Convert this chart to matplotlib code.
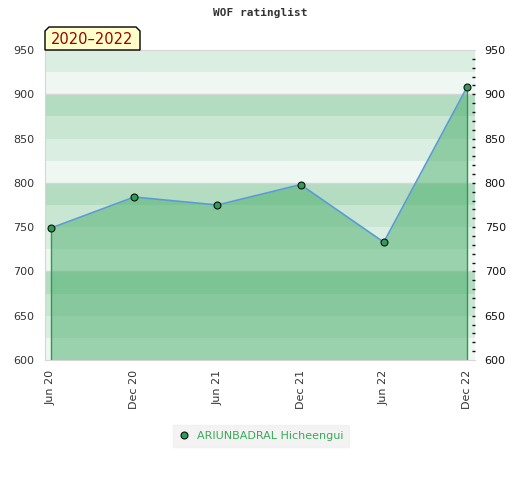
import numpy as np
import matplotlib
matplotlib.use("Agg")
import matplotlib.pyplot as plt
from matplotlib.patches import Polygon
from matplotlib.ticker import FixedLocator

# 数据
periods = ["Jun 20", "Dec 20", "Jun 21", "Dec 21", "Jun 22", "Dec 22"]
ratings = [749, 784, 775, 798, 733, 908]
player = "ARIUNBADRAL Hicheengui"
years = "2020–2022"
y_min, y_max = 600, 950

W, H = 520, 480
fig = plt.figure(figsize=(W / 100, H / 100), dpi=100)
ax = fig.add_axes([45 / W, 1 - 360 / H, 430 / W, 310 / H])

# 背景色带
band_colors = ["#eef7f1", "#daeee1", "#c8e6d2", "#b3dcc1"]
for i, y0 in enumerate(range(y_min, y_max, 25)):
    ax.axhspan(y0, y0 + 25, color=band_colors[i % 4], lw=0, zorder=0)
for y in (700, 800, 900):
    ax.axhline(y, color="#d6d6d6", lw=1, zorder=1)

x = np.arange(len(periods))
ax.fill_between(x, ratings, y_min, color="#48ae6a", alpha=0.5, lw=0, zorder=2)
ax.vlines([x[0], x[-1]], y_min, [ratings[0], ratings[-1]], color="#2e9a50", lw=1, zorder=3)
ax.plot(x, ratings, color="#5b9bd5", lw=1.2, zorder=4)
ax.plot(x, ratings, "o", ms=5, mfc="#2e9e55", mec="#111111", mew=0.8, zorder=5)

ax.set_xlim(-6 / 83.2, 5 + 8 / 83.2)
ax.set_ylim(y_min, y_max)
ax.set_xticks(x)
ax.set_xticklabels(periods, rotation=90, fontsize=8, color="#333333")
ax.tick_params(axis="x", length=0, pad=7)
ax.set_yticks(range(y_min, y_max + 1, 50))
ax.tick_params(axis="y", length=0, labelsize=8, labelcolor="#333333", pad=8)
for s in ("left", "bottom", "top"):
    ax.spines[s].set_color("#d6d6d6")
ax.spines["right"].set_visible(False)

# 右侧刻度：每10一个短刻度，不含两端
ax2 = ax.twinx()
ax2.set_ylim(y_min, y_max)
ax2.set_yticks(range(y_min, y_max + 1, 50))
ax2.yaxis.set_minor_locator(FixedLocator(range(y_min + 10, y_max, 10)))
ax2.yaxis.remove_overlapping_locs = False
ax2.tick_params(axis="y", which="major", length=0, labelsize=8,
                labelcolor="#111111", pad=7)
ax2.tick_params(axis="y", which="minor", direction="in", length=2.5, width=1,
                color="#111111", pad=7)
ax2.yaxis.set_minor_formatter(plt.NullFormatter())
for s in ax2.spines.values():
    s.set_visible(False)

# 标题
fig.text(260 / W, 1 - 13 / H, "WOF ratinglist", ha="center", va="center",
         family="DejaVu Sans Mono", fontweight="bold", fontsize=8, color="#333333")

# 年份标签
pts = [(45, 50), (45, 31), (49, 27), (136, 27), (140, 31), (140, 50)]
fig.patches.append(Polygon([(px / W, 1 - py / H) for px, py in pts], closed=True,
                           transform=fig.transFigure, fc="#ffffcc", ec="#000000", lw=1))
fig.text(92 / W, 1 - 40 / H, years, ha="center", va="center", fontsize=10.5, color="#990000")

# 图例
leg = fig.legend(handles=[plt.Line2D([], [], ls="none", marker="o", ms=5, mfc="#2e9e55",
                                     mec="#111111", mew=0.8)],
                 labels=[player], loc="center", bbox_to_anchor=(261 / W, 1 - 436 / H),
                 fontsize=8, frameon=True, fancybox=False, handletextpad=0.6,
                 borderpad=0.5, handlelength=1.0, labelcolor="#3aaa5a")
leg.get_frame().set_facecolor("#f0f0f0")
leg.get_frame().set_edgecolor("#f0f0f0")

fig.savefig("out.png", dpi=100)
